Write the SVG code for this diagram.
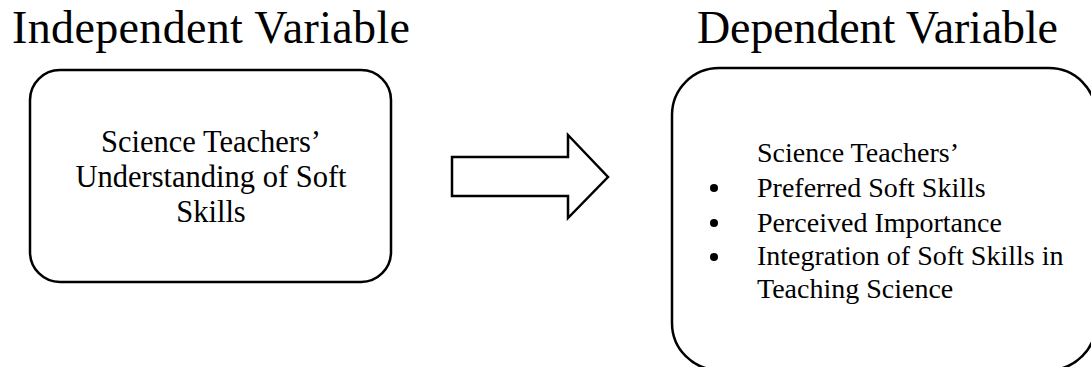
<svg xmlns="http://www.w3.org/2000/svg" width="1091" height="367" viewBox="0 0 1091 367">
  <style>
    .title { font-family: "Liberation Serif", "Times New Roman", serif; font-size: 46px; fill: #000; }
    .box { fill: #fff; stroke: #000; stroke-width: 2.5; }
    .lbl { font-family: "Liberation Serif", "Times New Roman", serif; fill: #000; }
    .lbl-l { font-size: 30.5px; }
    .lbl-r { font-size: 28px; }
    .bullet { fill: #000; }
  </style>
  <rect width="1091" height="367" fill="#fff"/>

  <!-- column headings -->
  <text class="title" x="12" y="43" textLength="398" lengthAdjust="spacing">Independent Variable</text>
  <text class="title" x="697" y="43" textLength="361" lengthAdjust="spacing">Dependent Variable</text>

  <!-- independent variable box -->
  <g id="node-independent">
    <rect class="box" x="30" y="70" width="361" height="212" rx="30" ry="30"/>
    <text class="lbl lbl-l" x="211" y="152" text-anchor="middle">Science Teachers’</text>
    <text class="lbl lbl-l" x="211" y="187" text-anchor="middle">Understanding of Soft</text>
    <text class="lbl lbl-l" x="211" y="222" text-anchor="middle">Skills</text>
  </g>

  <!-- dependent variable box -->
  <g id="node-dependent">
    <rect class="box" x="672" y="68" width="424" height="302" rx="47" ry="47"/>
    <text class="lbl lbl-r" x="757" y="162">Science Teachers’</text>
    <circle class="bullet" cx="714" cy="188" r="4"/>
    <text class="lbl lbl-r" x="757" y="197">Preferred Soft Skills</text>
    <circle class="bullet" cx="714" cy="223" r="4"/>
    <text class="lbl lbl-r" x="757" y="232">Perceived Importance</text>
    <circle class="bullet" cx="714" cy="257" r="4"/>
    <text class="lbl lbl-r" x="757" y="265">Integration of Soft Skills in</text>
    <text class="lbl lbl-r" x="757" y="298">Teaching Science</text>
  </g>

  <!-- block arrow linking the two variables -->
  <g id="connectors">
    <polygon class="box" points="452,157 568,157 568,135 608,177 568,218 568,196 452,196"/>
  </g>
</svg>
